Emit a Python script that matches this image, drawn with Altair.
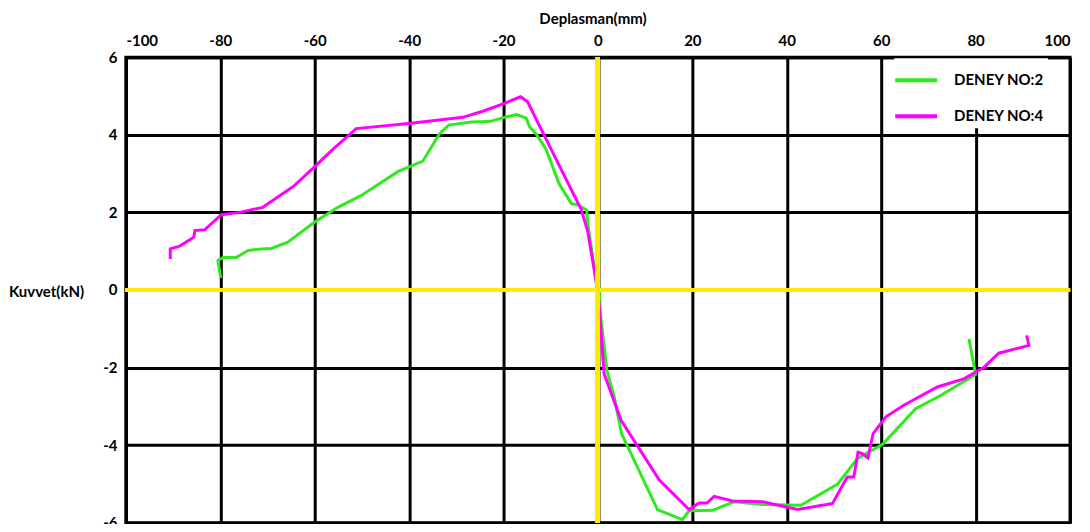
import altair as alt
import pandas as pd

# DENEY NO:2 (green)
g_x = [-79.9, -80.5, -79.4, -76.6, -74.1, -72.0, -69.2, -65.7, -60.0, -55.1, -50.2, -42.4,
       -37.1, -33.6, -31.6, -26.9, -23.0, -19.8, -17.2, -15.2, -14.5, -13.1, -11.0, -8.2,
       -5.6, -4.3, -2.4, -2.05, -0.8, -0.4, 0.3, 0.6, 1.9, 3.45, 5.0, 12.6, 17.9, 19.3,
       24.3, 28.8, 34.9, 43.0, 50.7, 55.0, 60.3, 67.3, 72.6, 80.0, 78.6]
g_y = [0.31, 0.76, 0.84, 0.84, 1.02, 1.05, 1.07, 1.23, 1.75, 2.13, 2.43, 3.05,
       3.32, 4.02, 4.25, 4.33, 4.34, 4.45, 4.52, 4.43, 4.21, 4.02, 3.63, 2.73,
       2.22, 2.20, 2.06, 1.62, 0.59, 0.2, -0.10, -0.70, -2.07, -2.76, -3.70, -5.66, -5.92, -5.69,
       -5.68, -5.46, -5.53, -5.55, -5.01, -4.34, -3.98, -3.06, -2.72, -2.18, -1.26]

# DENEY NO:4 (magenta)
m_x = [-90.6, -90.6, -88.6, -85.6, -85.4, -83.3, -79.8, -75.9, -71.0, -64.3, -60.0, -56.1,
       -51.2, -39.6, -28.6, -24.1, -19.8, -16.4, -14.9, -11.7, -5.7, -3.6, -2.2, -1.06,
       0.06, 1.3, 4.9, 13.0, 19.3, 21.4, 23.1, 24.6, 28.5, 34.9, 42.3, 49.7, 52.8, 54.2,
       55.1, 56.0, 57.2, 58.3, 61.0, 64.8, 71.9, 77.5, 81.8, 84.9, 91.3, 90.8]
m_y = [0.80, 1.06, 1.13, 1.36, 1.53, 1.55, 1.94, 2.00, 2.13, 2.69, 3.18, 3.63,
       4.16, 4.30, 4.45, 4.62, 4.81, 4.98, 4.85, 4.06, 2.60, 2.09, 1.53, 0.71,
       -0.10, -2.16, -3.36, -4.90, -5.66, -5.49, -5.49, -5.32, -5.44, -5.46, -5.66, -5.50, -4.82, -4.82,
       -4.18, -4.22, -4.33, -3.70, -3.27, -2.97, -2.50, -2.29, -1.99, -1.63, -1.43, -1.17]

series_names = ["DENEY NO:2", "DENEY NO:4"]
series_colors = ["#2EEA1E", "#FF00FF"]
x_ticks = [-100, -80, -60, -40, -20, 0, 20, 40, 60, 80, 100]
y_ticks = [-6, -4, -2, 0, 2, 4, 6]

rows = []
for i, (x, y) in enumerate(zip(g_x, g_y)):
    rows.append({"x": x, "y": y, "seri": series_names[0], "i": i})
for i, (x, y) in enumerate(zip(m_x, m_y)):
    rows.append({"x": x, "y": y, "seri": series_names[1], "i": i})
df = pd.DataFrame(rows)

FONT = "Lato"
PLAIN = "'' + datum.value"

x_enc = alt.X(
    "x:Q",
    scale=alt.Scale(domain=[-100, 100], nice=False, zero=False),
    axis=alt.Axis(
        orient="top", values=x_ticks, title="Deplasman(mm)", labelExpr=PLAIN,
        grid=True, gridColor="black", gridWidth=3, gridOpacity=1,
        domain=True, domainColor="black", domainWidth=3, ticks=False,
        labelFont=FONT, labelFontSize=15, labelFontWeight="bold", labelColor="black",
        labelPadding=9,
        titleFont=FONT, titleFontSize=15, titleFontWeight="bold", titleColor="black",
        titleX=467, titleY=-39, titleAlign="center", titleBaseline="middle",
    ),
)
y_enc = alt.Y(
    "y:Q",
    scale=alt.Scale(domain=[-6, 6], nice=False, zero=False),
    axis=alt.Axis(
        orient="left", values=y_ticks, title="Kuvvet(kN)", labelExpr=PLAIN,
        grid=True, gridColor="black", gridWidth=3, gridOpacity=1,
        domain=True, domainColor="black", domainWidth=3, ticks=False,
        labelFont=FONT, labelFontSize=15, labelFontWeight="bold", labelColor="black",
        labelPadding=9,
        titleFont=FONT, titleFontSize=15, titleFontWeight="bold", titleColor="black",
        titleAngle=0, titleX=-80, titleY=235, titleAlign="center", titleBaseline="middle",
    ),
)

lines = alt.Chart(df).mark_line(strokeWidth=3).encode(
    x=x_enc,
    y=y_enc,
    order=alt.Order("i:Q"),
    color=alt.Color(
        "seri:N",
        scale=alt.Scale(domain=series_names, range=series_colors),
        legend=alt.Legend(
            orient="none", legendX=769, legendY=1, title=None,
            fillColor="white", padding=4,
            symbolType="M-1.31,0H1.31", symbolSize=1024, symbolStrokeWidth=4,
            labelOffset=20, rowPadding=10,
            labelFont=FONT, labelFontSize=15, labelFontWeight="bold", labelColor="black",
        ),
    ),
)

zero_v = alt.Chart(df).mark_rule(color="#FFEA00", strokeWidth=4).encode(x=alt.datum(0))
zero_h = alt.Chart(df).mark_rule(color="#FFEA00", strokeWidth=4).encode(y=alt.datum(0))

chart = alt.layer(lines, zero_h, zero_v).properties(
    width=945, height=466,
    autosize=alt.AutoSizeParams(type="none"),
    padding={"left": 118, "top": 49, "right": 12, "bottom": 1},
    background="white",
).configure_view(stroke="black", strokeWidth=3)

chart.save("out.html", embed_options={"renderer": "svg", "actions": False})
